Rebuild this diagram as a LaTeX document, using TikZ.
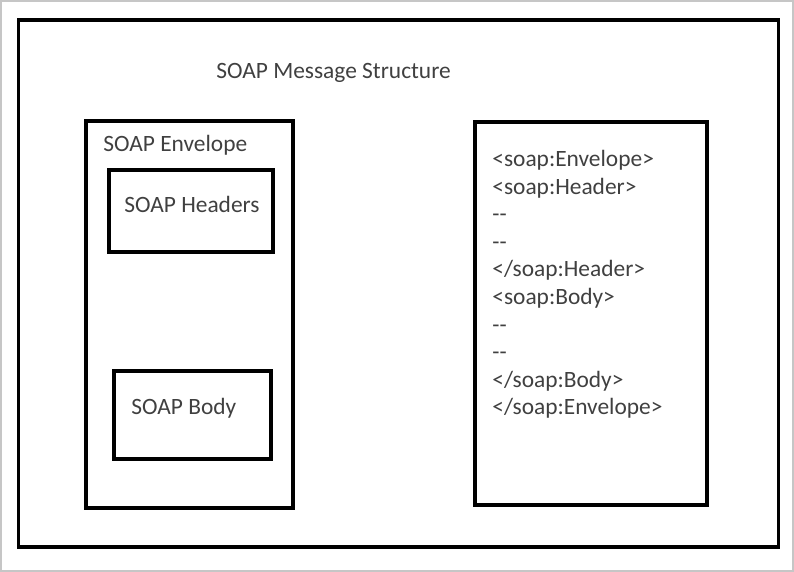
\documentclass[tikz,border=0pt]{standalone}
\usepackage{fontspec}
\setmainfont{Carlito}
\usepackage{tikz}
\usetikzlibrary{positioning}

\begin{document}
\begin{tikzpicture}[x=0.5pt, y=-0.5pt,
  frame/.style={draw, line width=1.7pt, inner sep=0pt},
  txt/.style={anchor=base west, inner sep=0pt, text=black!75,
              font=\fontsize{11.7}{13.8}\selectfont}]
  % page edge and outer frame
  \draw[gray!45, line width=0.8pt] (1,1) rectangle (793,571);
  \useasboundingbox (0,0) rectangle (794,572);
  \node[frame, minimum width=380pt, minimum height=263.5pt] (outer) at (398.5,283.5) {};
  \node[txt] (title) at (216,79) {SOAP Message Structure};
  % envelope with its parts
  \node[frame, minimum width=103.5pt, minimum height=193.5pt] (env) at (189.5,314.5) {};
  \node[txt] (envlbl) at (103,152) {SOAP Envelope};
  \node[frame, minimum width=82pt, minimum height=41pt] (hdr) at (191,211) {};
  \node[txt] (hdrlbl) at (124,213) {SOAP Headers};
  \node[frame, minimum width=78.5pt, minimum height=44pt] (body) at (192.5,415) {};
  \node[txt] (bodylbl) at (131,415) {SOAP Body};
  % xml listing
  \node[frame, minimum width=116pt, minimum height=191.5pt] (xml) at (591,313.5) {};
  \node[txt, align=left] (xmllbl) at (492,415)
    {<soap:Envelope>\\ <soap:Header>\\ -{}-\\ -{}-\\ </soap:Header>\\
     <soap:Body>\\ -{}-\\ -{}-\\ </soap:Body>\\ </soap:Envelope>};
\end{tikzpicture}
\end{document}
